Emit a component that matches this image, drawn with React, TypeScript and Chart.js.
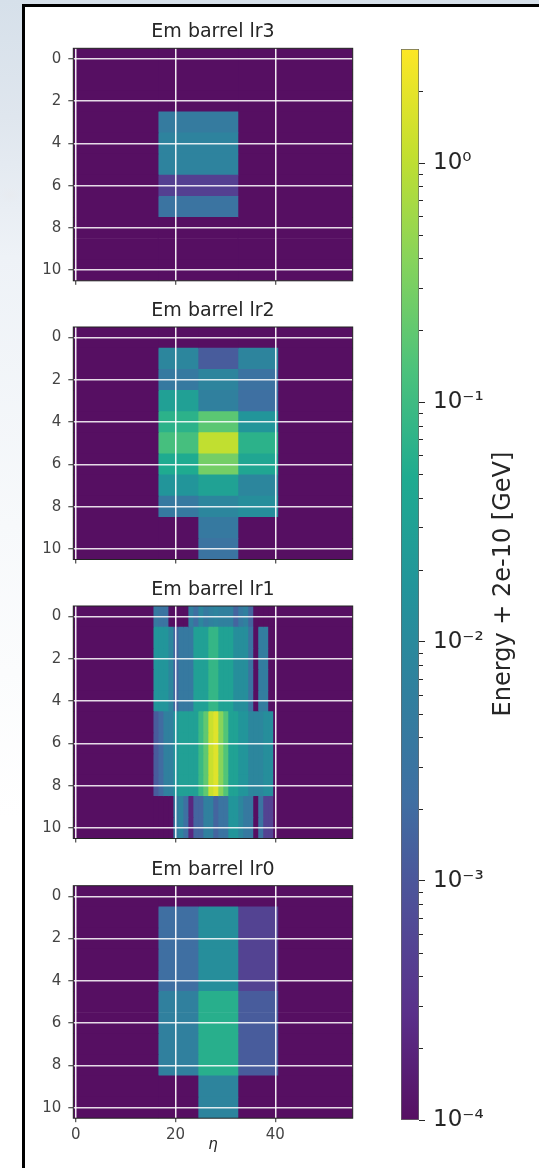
import React, { useEffect, useRef } from "react";
import { Chart, registerables } from "chart.js";

Chart.register(...registerables);

// ---------- data ----------
const yTickValues = [0, 2, 4, 6, 8, 10];
const xTickValues = [0, 20, 40];
const rowNumbers = [0, 1, 2, 3, 4, 5, 6, 7, 8, 9, 10];
const colorbarRange = [1e-4, 3];
const colorbarMajor = [1e-4, 1e-3, 1e-2, 1e-1, 1];
const colorbarMajorLabels = ["10⁻⁴", "10⁻³", "10⁻²", "10⁻¹", "10⁰"];
const colorbarMinor = [
  2e-4, 3e-4, 4e-4, 5e-4, 6e-4, 7e-4, 8e-4, 9e-4,
  2e-3, 3e-3, 4e-3, 5e-3, 6e-3, 7e-3, 8e-3, 9e-3,
  2e-2, 3e-2, 4e-2, 5e-2, 6e-2, 7e-2, 8e-2, 9e-2,
  2e-1, 3e-1, 4e-1, 5e-1, 6e-1, 7e-1, 8e-1, 9e-1,
  2,
];
const colorbarLabel = "Energy + 2e-10 [GeV]";

const coarseEdges = [-0.5, 16.5, 24.5, 32.5, 40.5, 55.5];
const lr3Edges = [-0.5, 16.5, 32.5, 55.5];
const lr1Edges = [
  -0.5, 15.5, 16.5, 17.5, 18.5, 19.5, 20.5, 21.5, 22.5, 23.5, 24.5, 25.5, 26.5, 27.5,
  28.5, 29.5, 30.5, 31.5, 32.5, 33.5, 34.5, 35.5, 36.5, 37.5, 38.5, 39.5, 55.5,
];

const lr3Rows = [
  [0, 0, 0], [0, 0, 0], [0, 0, 0],
  [0, 0.0045, 0],
  [0, 0.007, 0],
  [0, 0.007, 0],
  [0, 0.00047, 0],
  [0, 0.003, 0],
  [0, 0, 0], [0, 0, 0], [0, 0, 0],
];

const lr2Rows = [
  [0, 0, 0, 0, 0],
  [0, 0.0083, 0.0012, 0.0075, 0],
  [0, 0.0041, 0.0075, 0.0027, 0],
  [0, 0.029, 0.0062, 0.0024, 0],
  [0, 0.066, 0.18, 0.017, 0],
  [0, 0.12, 1.06, 0.066, 0],
  [0, 0.048, 0.28, 0.039, 0],
  [0, 0.017, 0.032, 0.0083, 0],
  [0, 0.0041, 0.0083, 0.0125, 0],
  [0, 0, 0.0041, 0, 0],
  [0, 0, 0.003, 0, 0],
];

const lr1RowTop = [0, 0.0041, 0.003, 0.003, 0, 0, 0, 0, 0.0062, 0.0022, 0.0083, 0.0041, 0.0062, 0.0075, 0.0062, 0.0062, 0.0062, 0.0016, 0.0041, 0.0062, 0.0016, 0, 0, 0, 0, 0];
const lr1RowsUpper = [0, 0.017, 0.017, 0.017, 0.0083, 0.0016, 0.0041, 0.0041, 0.0041, 0.029, 0.029, 0.029, 0.08, 0.08, 0.032, 0.032, 0.032, 0.0125, 0.0125, 0.0125, 0.003, 0, 0.005, 0.005, 0, 0];
const lr1RowsMiddle = [0, 0.0012, 0.002, 0.0062, 0.0062, 0.017, 0.029, 0.029, 0.029, 0.029, 0.09, 0.2, 1.2, 1.77, 0.4, 0.15, 0.032, 0.032, 0.017, 0.017, 0.0083, 0.0083, 0.0083, 0.0125, 0.0125, 0];
const lr1RowsLower = [0, 0, 0, 0, 0, 0.0041, 0.0075, 0.0024, 0.00021, 0.0016, 0.0016, 0.0062, 0.0062, 0.0016, 0.003, 0.003, 0.017, 0.017, 0.0083, 0.0041, 0.0041, 0, 0.003, 0.00052, 0.00052, 0];
const lr1Rows = [
  lr1RowTop,
  lr1RowsUpper, lr1RowsUpper, lr1RowsUpper, lr1RowsUpper,
  lr1RowsMiddle, lr1RowsMiddle, lr1RowsMiddle, lr1RowsMiddle,
  lr1RowsLower, lr1RowsLower,
];

const lr0RowBlank = [0, 0, 0, 0, 0];
const lr0RowsUpper = [0, 0.0022, 0.0125, 0.00052, 0];
const lr0RowsMiddle = [0, 0.0062, 0.059, 0.0012, 0];
const lr0RowsLower = [0, 0, 0.0075, 0, 0];
const lr0Rows = [
  lr0RowBlank,
  lr0RowsUpper, lr0RowsUpper, lr0RowsUpper, lr0RowsUpper,
  lr0RowsMiddle, lr0RowsMiddle, lr0RowsMiddle, lr0RowsMiddle,
  lr0RowsLower, lr0RowsLower,
];

const panelTitles = ["Em barrel lr3", "Em barrel lr2", "Em barrel lr1", "Em barrel lr0"];
const panelEdges = [lr3Edges, coarseEdges, lr1Edges, coarseEdges];
const panelRows = [lr3Rows, lr2Rows, lr1Rows, lr0Rows];
const panelTops = [48.3, 327, 606, 885.7];

// ---------- colour: the ramp as it is displayed in the picture ----------
const ramp = [
  [86, 15, 98], [90, 48, 138], [79, 79, 152], [63, 111, 162], [48, 128, 158], [34, 149, 154],
  [31, 171, 144], [76, 194, 124], [133, 211, 92], [194, 223, 48], [253, 231, 37],
];
function rgb(c: number[]) {
  return `rgb(${Math.round(c[0])},${Math.round(c[1])},${Math.round(c[2])})`;
}
function colorFor(v: number) {
  const lo = Math.log10(colorbarRange[0]);
  const hi = Math.log10(colorbarRange[1]);
  const t = Math.min(1, Math.max(0, (Math.log10(Math.max(v, colorbarRange[0])) - lo) / (hi - lo)));
  const p = t * (ramp.length - 1);
  const i = Math.min(ramp.length - 2, Math.floor(p));
  const f = p - i;
  return rgb(ramp[i].map((a, k) => a + (ramp[i + 1][k] - a) * f));
}

// ---------- layout ----------
const FONT = "'DejaVu Sans'";
const TEXT = "#262626";
const AREA_H = 232.5;
const CANVAS_LEFT = 28;
const CANVAS_W = 330;
const AREA_LEFT = 73.3;
const AREA_RIGHT = 352.7;

const spines = {
  id: "spines",
  afterDraw(chart: any) {
    const { ctx, chartArea: a } = chart;
    ctx.save();
    ctx.strokeStyle = "#222";
    ctx.lineWidth = 1;
    ctx.strokeRect(a.left, a.top, a.right - a.left, a.bottom - a.top);
    ctx.restore();
  },
};

function Panel({ index }: { index: number }) {
  const ref = useRef<HTMLCanvasElement>(null);
  const last = index === panelTitles.length - 1;
  const areaTop = panelTops[index];
  const top = Math.round(areaTop - 27);
  const axisH = last ? 36 : 8;
  const height = Math.ceil(areaTop - top + AREA_H + axisH + 2);
  const titleH = 19 + 6.3;
  useEffect(() => {
    const edges = panelEdges[index];
    const rows = panelRows[index];
    const datasets = edges.slice(0, -1).map((e, i) => ({
      data: rowNumbers.map((r) => ({ x: [e, edges[i + 1]], y: r })),
      backgroundColor: rowNumbers.map((r) => colorFor(rows[r][i])),
      borderWidth: 0,
      barPercentage: 1,
      categoryPercentage: 1,
      grouped: false,
    }));
    const noPadding = (s: any) => {
      s.paddingTop = 0;
      s.paddingBottom = 0;
      s.paddingLeft = 0;
      s.paddingRight = 0;
    };
    const chart = new Chart(ref.current as HTMLCanvasElement, {
      type: "bar",
      data: { datasets } as any,
      plugins: [spines],
      options: {
        indexAxis: "y",
        responsive: false,
        animation: false,
        devicePixelRatio: 1,
        layout: {
          padding: {
            left: 0,
            right: CANVAS_LEFT + CANVAS_W - AREA_RIGHT,
            top: areaTop - top - titleH,
            bottom: height - (areaTop - top + AREA_H) - axisH,
          },
        },
        plugins: {
          legend: { display: false },
          tooltip: { enabled: false },
          title: {
            display: true,
            fullSize: false,
            text: panelTitles[index],
            color: TEXT,
            font: { family: FONT, size: 19, weight: "normal", lineHeight: 1 },
            padding: { top: 0, bottom: 6.3 },
          },
        },
        scales: {
          x: {
            type: "linear",
            min: -0.5,
            max: 55.5,
            afterBuildTicks: (s: any) => { s.ticks = xTickValues.map((value) => ({ value })); },
            afterFit: (s: any) => { s.height = axisH; noPadding(s); },
            grid: { color: "rgba(255,255,255,0.92)", lineWidth: 1.5, z: 1, tickColor: TEXT, tickLength: 4, tickWidth: 1, offset: false },
            border: { display: false },
            ticks: {
              display: last,
              autoSkip: false,
              maxRotation: 0,
              padding: 4,
              color: "#444",
              font: { family: FONT, size: 15 },
              callback: (v: any) => String(v),
            },
            title: {
              display: last,
              text: "η",
              color: TEXT,
              font: { family: FONT, size: 15, style: "italic", lineHeight: 1 },
              padding: { top: 0, bottom: 2 },
            },
          },
          y: {
            type: "linear",
            reverse: true,
            min: -0.5,
            max: 10.5,
            offset: false,
            afterBuildTicks: (s: any) => { s.ticks = yTickValues.map((value) => ({ value })); },
            afterFit: (s: any) => { s.width = AREA_LEFT - CANVAS_LEFT; noPadding(s); },
            grid: { color: "rgba(255,255,255,0.85)", lineWidth: 1.5, z: 1, tickColor: TEXT, tickLength: 5, tickWidth: 1, offset: false },
            border: { display: false },
            ticks: {
              autoSkip: false,
              padding: 7,
              color: "#444",
              font: { family: FONT, size: 15 },
              callback: (v: any) => String(v),
            },
          },
        },
      } as any,
    });
    return () => chart.destroy();
  }, [index]);
  return (
    <canvas
      ref={ref}
      width={CANVAS_W}
      height={height}
      style={{ position: "absolute", left: CANVAS_LEFT, top, width: CANVAS_W, height }}
    />
  );
}

const colorbarExtras = {
  id: "colorbarExtras",
  afterDraw(chart: any) {
    const { ctx, chartArea: a } = chart;
    const s = chart.scales.y;
    ctx.save();
    ctx.strokeStyle = TEXT;
    ctx.lineWidth = 1;
    colorbarMinor.forEach((v) => {
      const p = Math.round(s.getPixelForValue(v)) + 0.5;
      ctx.beginPath();
      ctx.moveTo(a.right, p);
      ctx.lineTo(a.right + 4, p);
      ctx.stroke();
    });
    ctx.fillStyle = TEXT;
    ctx.font = `24px ${FONT}`;
    ctx.textAlign = "center";
    ctx.textBaseline = "middle";
    ctx.translate(103, 545);
    ctx.rotate(-Math.PI / 2);
    ctx.fillText(colorbarLabel, 0, 0);
    ctx.restore();
  },
};

function Colorbar() {
  const ref = useRef<HTMLCanvasElement>(null);
  useEffect(() => {
    const chart = new Chart(ref.current as HTMLCanvasElement, {
      type: "bar",
      data: {
        labels: ["colorbar"],
        datasets: [
          {
            data: [colorbarRange],
            barPercentage: 1,
            categoryPercentage: 1,
            borderWidth: 1,
            borderColor: "rgba(40,40,40,0.7)",
            borderSkipped: false,
            backgroundColor: (c: any) => {
              const a = c.chart.chartArea;
              if (!a) return "#000";
              const g = c.chart.ctx.createLinearGradient(0, a.bottom, 0, a.top);
              ramp.forEach((col, i) => g.addColorStop(i / (ramp.length - 1), rgb(col)));
              return g;
            },
          },
        ],
      } as any,
      plugins: [colorbarExtras],
      options: {
        responsive: false,
        animation: false,
        devicePixelRatio: 1,
        layout: { padding: { left: 0, right: 0, top: 10, bottom: 10 } },
        plugins: { legend: { display: false }, tooltip: { enabled: false } },
        scales: {
          x: { display: false },
          y: {
            type: "logarithmic",
            position: "right",
            min: colorbarRange[0],
            max: colorbarRange[1],
            afterBuildTicks: (s: any) => { s.ticks = colorbarMajor.map((value) => ({ value })); },
            afterFit: (s: any) => { s.width = 135 - 18; s.paddingTop = 0; s.paddingBottom = 0; },
            grid: { drawOnChartArea: false, tickColor: TEXT, tickLength: 6, tickWidth: 1 },
            border: { display: false },
            ticks: {
              autoSkip: false,
              padding: 8,
              color: TEXT,
              font: { family: FONT, size: 23 },
              callback: (v: any) => {
                const i = colorbarMajor.findIndex((m) => Math.abs(m - v) < m * 1e-6);
                return i >= 0 ? colorbarMajorLabels[i] : "";
              },
            },
          },
        },
      } as any,
    });
    return () => chart.destroy();
  }, []);
  return (
    <canvas
      ref={ref}
      width={135}
      height={1091}
      style={{ position: "absolute", left: 401, top: 39, width: 135, height: 1091 }}
    />
  );
}

export default function App() {
  useEffect(() => {
    document.body.style.margin = "0";
  }, []);
  return (
    <div
      style={{
        position: "fixed",
        left: 0,
        top: 0,
        width: 539,
        height: 1168,
        overflow: "hidden",
        background:
          "radial-gradient(ellipse 12px 8px at 10px 195px,#e8ebf0,rgba(232,235,240,0)),linear-gradient(180deg,#d6e0ea 0%,#dfe6ee 10%,#eef2f7 22%,#f7f9fb 45%,#ffffff 70%,#ffffff 100%)",
      }}
    >
      <div style={{ position: "absolute", inset: 0, filter: "blur(0.5px)" }}>
        <div
          style={{
            position: "absolute",
            left: 22,
            top: 4,
            width: 514,
            height: 1200,
            background: "#fff",
            border: "3px solid #000",
            boxSizing: "content-box",
          }}
        />
        {panelTitles.map((_, i) => (
          <Panel key={i} index={i} />
        ))}
        <Colorbar />
      </div>
    </div>
  );
}
